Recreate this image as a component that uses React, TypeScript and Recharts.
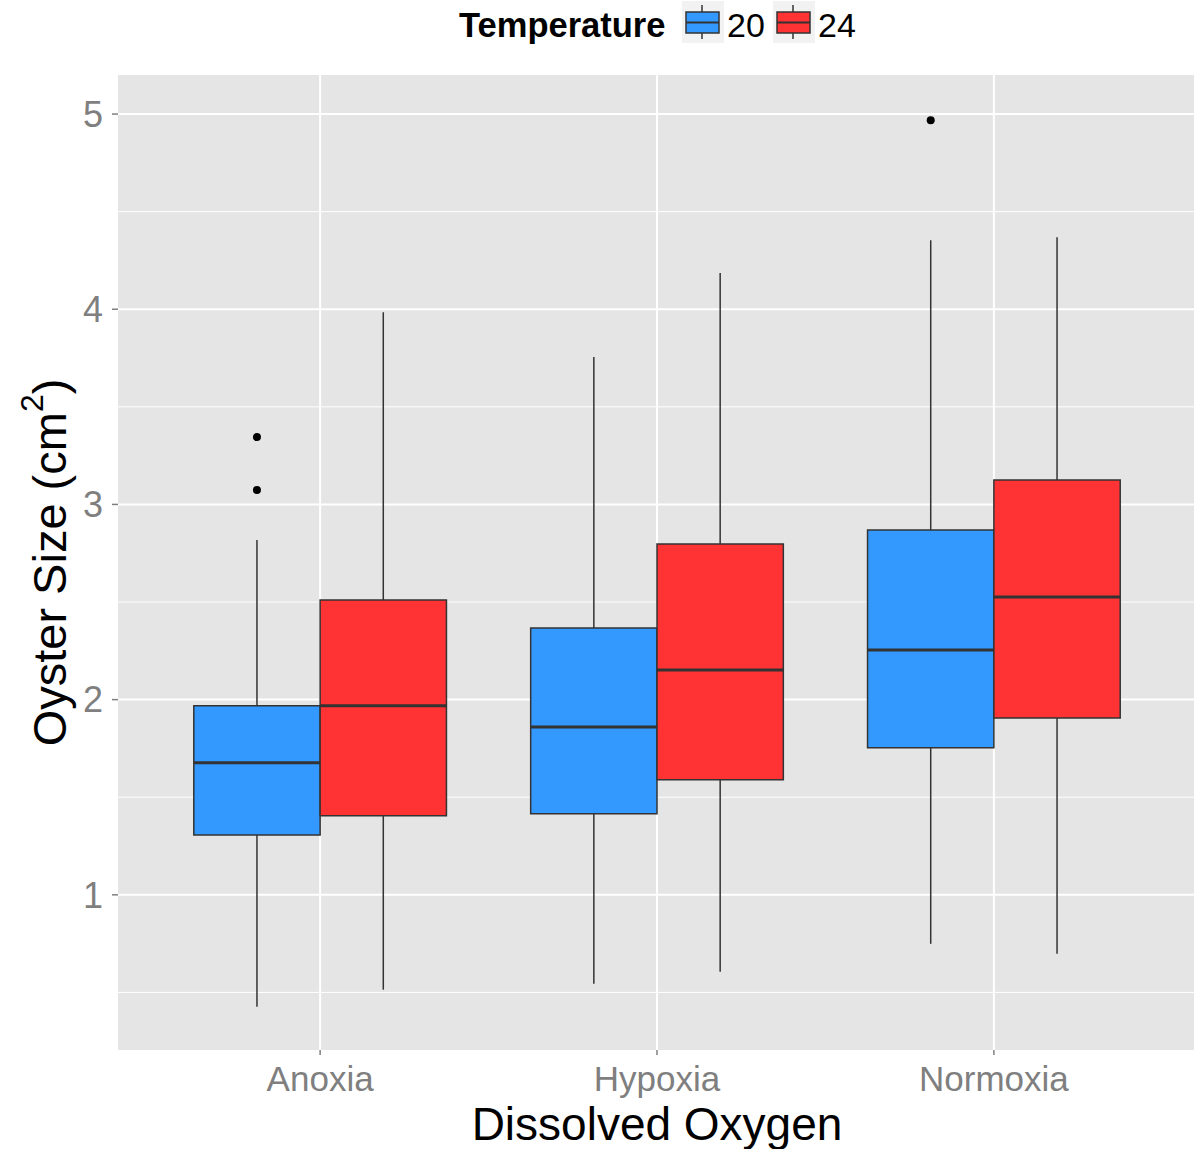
import React from 'react';
import {
  ComposedChart, XAxis, YAxis, CartesianGrid, ReferenceArea, ReferenceLine, Scatter,
} from 'recharts';

const categories = ['Anoxia', 'Hypoxia', 'Normoxia'];
const temperatures = ['20', '24'];
const colors = ['#3399FF', '#FF3333'];

// Temperature 20
const min20 = [0.427, 0.544, 0.749];
const q1_20 = [1.307, 1.415, 1.753];
const med20 = [1.676, 1.86, 2.254];
const q3_20 = [1.968, 2.367, 2.869];
const max20 = [2.818, 3.755, 4.354];
const outliers20 = [[3.345, 3.074], [], [4.968]];

// Temperature 24
const min24 = [0.514, 0.606, 0.698];
const q1_24 = [1.405, 1.589, 1.906];
const med24 = [1.968, 2.152, 2.526];
const q3_24 = [2.51, 2.797, 3.125];
const max24 = [3.985, 4.185, 4.369];
const outliers24: number[][] = [[], [], []];

const yTicks = [1, 2, 3, 4, 5];
const yMinor = [0.5, 1.5, 2.5, 3.5, 4.5];
const xTicks = [1, 2, 3];

const FONT = '"Liberation Sans", Arial, sans-serif';
const BOX_W = 0.375;

type Group = { pos: number; min: number; q1: number; med: number; q3: number; max: number; fill: string };

const groups: Group[] = [];
categories.forEach((_, i) => {
  groups.push({ pos: i + 1 - BOX_W / 2, min: min20[i], q1: q1_20[i], med: med20[i], q3: q3_20[i], max: max20[i], fill: colors[0] });
  groups.push({ pos: i + 1 + BOX_W / 2, min: min24[i], q1: q1_24[i], med: med24[i], q3: q3_24[i], max: max24[i], fill: colors[1] });
});

const outlierData: { x: number; y: number }[] = [];
categories.forEach((_, i) => {
  outliers20[i].forEach((v) => outlierData.push({ x: i + 1 - BOX_W / 2, y: v }));
  outliers24[i].forEach((v) => outlierData.push({ x: i + 1 + BOX_W / 2, y: v }));
});

const YLabel = (props: any) => {
  const vb = props.viewBox || {};
  const cx = 49;
  const cy = vb.y + vb.height / 2;
  return (
    <text
      x={cx}
      y={cy}
      transform={`rotate(-90, ${cx}, ${cy})`}
      textAnchor="middle"
      dominantBaseline="central"
      fontFamily={FONT}
      fontSize={47}
      fill="#000"
    >
      <tspan>Oyster Size (cm</tspan>
      <tspan fontSize={32} dy={-17}>2</tspan>
      <tspan dy={17}>)</tspan>
    </text>
  );
};

const XLabel = () => (
  <text
    x={657}
    y={1140}
    textAnchor="middle"
    fontFamily={FONT}
    fontSize={46}
    fill="#000"
  >
    Dissolved Oxygen
  </text>
);

const LegendKey = ({ fill, left }: { fill: string; left: number }) => (
  <svg width={42} height={42} style={{ position: 'absolute', left, top: 1, display: 'block' }}>
    <rect x={0} y={0} width={42} height={42} fill="#F2F2F2" />
    <line x1={20} y1={4} x2={20} y2={38} stroke="#333" strokeWidth={1.5} />
    <rect x={4} y={11} width={33} height={21} fill={fill} stroke="#333" strokeWidth={1.5} />
    <line x1={4} y1={21.5} x2={37} y2={21.5} stroke="#333" strokeWidth={2} />
  </svg>
);

const legendText = (text: string, left: number, size: number, bold: boolean) => (
  <svg width={260} height={50} style={{ position: 'absolute', left, top: 0, overflow: 'visible' }}>
    <text x={0} y={37} fontFamily={FONT} fontSize={size} fontWeight={bold ? 'bold' : 'normal'} fill="#000">
      {text}
    </text>
  </svg>
);

export default function App() {
  return (
    <div style={{ position: 'absolute', left: 0, top: 0, width: 1194, height: 1149, background: '#fff', overflow: 'hidden' }}>
      <ComposedChart
        width={1198}
        height={1149}
        margin={{ top: 75, right: 2, bottom: 0, left: 0 }}
        style={{ position: 'absolute', left: 0, top: 0 }}
      >
        <CartesianGrid
          fill="#E5E5E5"
          stroke="#FFFFFF"
          strokeWidth={1}
          vertical={false}
          horizontalValues={yMinor}
        />
        <CartesianGrid
          stroke="#FFFFFF"
          strokeWidth={2}
          horizontalValues={yTicks}
          verticalValues={xTicks}
        />
        <XAxis
          type="number"
          dataKey="x"
          domain={[0.4, 3.6]}
          ticks={xTicks}
          allowDataOverflow
          height={99}
          axisLine={false}
          tickSize={5}
          tickMargin={11}
          tickLine={{ stroke: '#7F7F7F', strokeWidth: 1.5 }}
          tick={{ fill: '#7F7F7F', fontSize: 35, fontFamily: FONT }}
          tickFormatter={(v: number) => categories[v - 1] ?? ''}
          label={<XLabel />}
        />
        <YAxis
          type="number"
          dataKey="y"
          domain={[0.205, 5.2]}
          ticks={yTicks}
          allowDataOverflow
          width={118}
          axisLine={false}
          tickSize={6}
          tickMargin={9}
          tickLine={{ stroke: '#7F7F7F', strokeWidth: 1.5 }}
          tick={{ fill: '#7F7F7F', fontSize: 36, fontFamily: FONT }}
          label={<YLabel />}
        />
        {groups.map((g, i) => (
          <ReferenceLine
            key={`wu${i}`}
            segment={[{ x: g.pos, y: g.q3 }, { x: g.pos, y: g.max }]}
            stroke="#333333"
            strokeWidth={1.5}
          />
        ))}
        {groups.map((g, i) => (
          <ReferenceLine
            key={`wl${i}`}
            segment={[{ x: g.pos, y: g.min }, { x: g.pos, y: g.q1 }]}
            stroke="#333333"
            strokeWidth={1.5}
          />
        ))}
        {groups.map((g, i) => (
          <ReferenceArea
            key={`b${i}`}
            x1={g.pos - BOX_W / 2}
            x2={g.pos + BOX_W / 2}
            y1={g.q1}
            y2={g.q3}
            fill={g.fill}
            fillOpacity={1}
            stroke="#333333"
            strokeWidth={1.5}
          />
        ))}
        {groups.map((g, i) => (
          <ReferenceLine
            key={`m${i}`}
            segment={[{ x: g.pos - BOX_W / 2, y: g.med }, { x: g.pos + BOX_W / 2, y: g.med }]}
            stroke="#333333"
            strokeWidth={3}
          />
        ))}
        <Scatter
          data={outlierData}
          dataKey="y"
          fill="#000"
          isAnimationActive={false}
          shape={(p: any) => <circle cx={p.cx} cy={p.cy} r={4} fill="#000" />}
        />
      </ComposedChart>
      {legendText('Temperature', 459, 34.5, true)}
      <LegendKey fill={colors[0]} left={682} />
      {legendText(temperatures[0], 727, 34, false)}
      <LegendKey fill={colors[1]} left={773} />
      {legendText(temperatures[1], 818, 34, false)}
    </div>
  );
}
